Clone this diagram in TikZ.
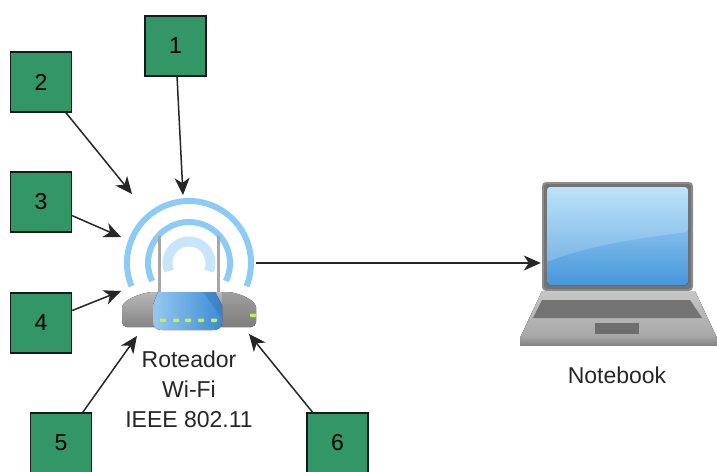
\documentclass[tikz,border=0pt]{standalone}
\usepackage{fontspec}
\setmainfont{Liberation Sans}
\usetikzlibrary{arrows.meta}
\definecolor{boxgreen}{RGB}{51,150,102}
\definecolor{wave}{RGB}{140,202,247}
\definecolor{wavelight}{RGB}{200,230,251}
\definecolor{panellight}{RGB}{150,200,240}
\definecolor{paneldark}{RGB}{60,140,212}
\definecolor{ledgreen}{RGB}{200,240,70}
\definecolor{screentop}{RGB}{175,220,250}
\definecolor{screenbot}{RGB}{70,150,218}
\begin{document}
\begin{tikzpicture}[x=1pt,y=-1pt,
  numbox/.style={draw=black!90, line width=1.3pt, fill=boxgreen,
    minimum width=61pt, minimum height=60pt, inner sep=0pt,
    font=\fontsize{23}{23}\selectfont},
  callout/.style={-{Stealth[length=17pt,width=15pt,inset=5pt]},
    line width=1.5pt, black!85},
  caption/.style={align=center, inner sep=0pt, text=black!85,
    font=\fontsize{23}{30}\selectfont},
  led/.style={fill=ledgreen, rounded corners=0.8pt},
]
\clip (0,0) rectangle (717,471);

% ---------- wireless router ----------
% radio waves
\draw[wave, line width=6pt] (189,263) ++(158:62) arc[start angle=158, end angle=382, radius=62];
\draw[wave, line width=6pt] (189,263) ++(154:41) arc[start angle=154, end angle=386, radius=41];
\draw[wavelight, line width=10pt] (189,263) ++(158:21.5) arc[start angle=158, end angle=382, radius=21.5];
% antennas
\draw[black!35, line width=3pt] (159,236) -- (159,295);
\draw[black!35, line width=3pt] (218,236) -- (218,295);
% housing
\fill[top color=black!28, bottom color=black!48]
  (122,307) .. controls (123,300) and (140,293) .. (152,292) -- (228,292)
  .. controls (240,293) and (255,300) .. (256,307) -- (256,322)
  .. controls (256,325) and (254,327) .. (251,327) -- (127,327)
  .. controls (124,327) and (122,325) .. (122,322) -- cycle;
\fill[black!55, opacity=0.35] (222,292) -- (228,292)
  .. controls (240,293) and (255,300) .. (256,307) -- (256,322)
  .. controls (256,325) and (254,327) .. (251,327) -- (222,327) -- cycle;
% front panel
\fill[left color=panellight, right color=paneldark]
  (158,292) -- (215,292) -- (222,305) -- (222,322)
  .. controls (222,327) and (219,330) .. (213,330) -- (162,330)
  .. controls (156,330) and (153,327) .. (153,322) -- (153,305) -- cycle;
\fill[paneldark!80!black, opacity=0.35] (203,292) -- (215,292) -- (222,305) -- (222,318) -- cycle;
% status lights
\foreach \x in {163,176,188,201,214}
  \fill[led] (\x-3,318.5) rectangle (\x+3,322);
\fill[led] (250,313.5) rectangle (256,317);
\node[minimum width=134pt, minimum height=134pt, inner sep=0pt] (router) at (189,263) {};
\node[caption] (routerlabel) at (189,389) {Roteador\\Wi-Fi\\IEEE 802.11};

% ---------- notebook ----------
\fill[rounded corners=4pt, black!45] (542,182) rectangle (693,291);
\fill[rounded corners=3pt, black!55] (544,184) rectangle (691,289);
\fill[rounded corners=3pt, top color=screentop, bottom color=screenbot]
  (547,187) rectangle (688,285);
\fill[white, opacity=0.18, rounded corners=3pt]
  (547,187) -- (688,187) -- (688,232)
  .. controls (640,238) and (590,245) .. (547,262) -- cycle;
\node[minimum width=151pt, minimum height=109pt, inner sep=0pt] (notebook) at (616.5,236.5) {};
\fill[top color=black!22, bottom color=black!35] (542,291) -- (695,291) -- (717,338) -- (520,338) -- cycle;
\fill[top color=black!38, bottom color=black!48] (520,338) rectangle (717,345);
\fill[black!55] (542,300) -- (690,300) -- (702,318) -- (533,318) -- cycle;
\fill[black!57] (595,323) rectangle (639,334);
\node[caption] (notebooklabel) at (617,375) {Notebook};

% ---------- numbered callouts ----------
\node[numbox] (b1) at (175.5,46) {1};
\node[numbox] (b2) at (41,82) {2};
\node[numbox] (b3) at (41,202) {3};
\node[numbox] (b4) at (41,323) {4};
\node[numbox] (b5) at (61,443) {5};
\node[numbox] (b6) at (337.5,443) {6};

\coordinate (t1) at (183,195);
\coordinate (t2) at (132,194);
\coordinate (t3) at (121,237);
\coordinate (t4) at (121,291);
\coordinate (t5) at (137,336);
\coordinate (t6) at (249,334);

\draw[callout] (b1) -- (t1);
\draw[callout] (b2) -- (t2);
\draw[callout] (b3) -- (t3);
\draw[callout] (b4) -- (t4);
\draw[callout] (b5) -- (t5);
\draw[callout] (b6) -- (t6);

% link to the notebook
\draw[callout] (router.east) -- (router.east -| notebook.west);
\end{tikzpicture}
\end{document}
